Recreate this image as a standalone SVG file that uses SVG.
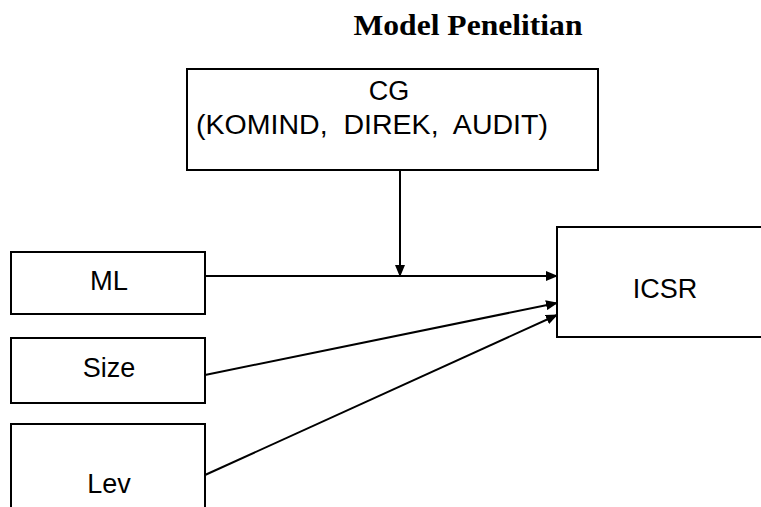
<svg xmlns="http://www.w3.org/2000/svg" width="761" height="507" viewBox="0 0 761 507">
<style>
.box{fill:#fff;stroke:#000;stroke-width:2}
.lbl{font-family:"Liberation Sans",Arial,sans-serif;font-size:27px;fill:#000;text-anchor:middle}
.con{stroke:#000;stroke-width:2;fill:none;marker-end:url(#ah)}
</style>
<defs>
<marker id="ah" markerWidth="12" markerHeight="10" refX="11" refY="5" orient="auto" markerUnits="userSpaceOnUse">
<path d="M0,0 L12,5 L0,10 Z" fill="#000"/>
</marker>
</defs>
<rect width="761" height="507" fill="#fff"/>
<text x="468" y="35" font-family="Liberation Serif,'Times New Roman',serif" font-weight="bold" font-size="29" text-anchor="middle" textLength="229" lengthAdjust="spacingAndGlyphs">Model Penelitian</text>
<g id="cg">
<rect class="box" x="187" y="69" width="411" height="101"/>
<text class="lbl" x="389" y="100">CG</text>
<text class="lbl" x="372" y="134" xml:space="preserve" textLength="352" lengthAdjust="spacingAndGlyphs">(KOMIND,  DIREK,  AUDIT)</text>
</g>
<g id="ml">
<rect class="box" x="11" y="252" width="194" height="62"/>
<text class="lbl" x="109" y="290" textLength="38" lengthAdjust="spacingAndGlyphs">ML</text>
</g>
<g id="size">
<rect class="box" x="11" y="338" width="194" height="65"/>
<text class="lbl" x="109" y="377">Size</text>
</g>
<g id="lev">
<rect class="box" x="11" y="424" width="194" height="110"/>
<text class="lbl" x="109" y="493">Lev</text>
</g>
<g id="icsr">
<rect class="box" x="557" y="227" width="220" height="110"/>
<text class="lbl" x="665" y="298">ICSR</text>
</g>
<g id="connectors">
<path class="con" d="M205,276 L557,276"/>
<path class="con" d="M400,170 L400,276"/>
<path class="con" d="M205,375 L557,303"/>
<path class="con" d="M205,475 L557,315"/>
</g>
</svg>
